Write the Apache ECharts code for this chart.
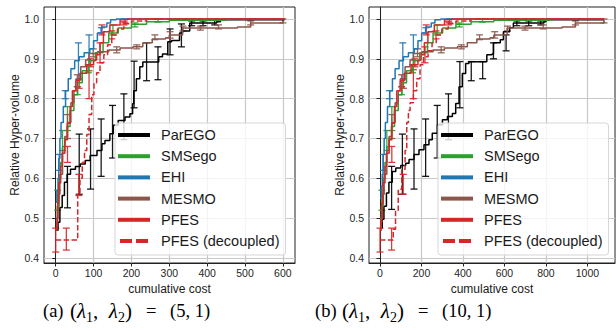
<!DOCTYPE html>
<html>
<head>
<meta charset="utf-8">
<script src="https://cdn.jsdelivr.net/npm/echarts@6/dist/echarts.min.js"></script>
<style>
  html, body { margin: 0; padding: 0; background: #fff; }
  #chart { width: 616px; height: 331px; }
</style>
</head>
<body>
<div id="chart"></div>
<script>
// ---- data: panel (a), lambda = (5, 1) ----
const xTicksA = [0, 100, 200, 300, 400, 500, 600];
const yTicks = [0.4, 0.5, 0.6, 0.7, 0.8, 0.9, 1.0];

const parEgoA = [[0,0.47],[6,0.49],[11,0.527],[17,0.557],[23,0.59],[30,0.61],[39,0.623],[52,0.63],[65,0.636],[78,0.645],[91,0.657],[109,0.67],[122,0.687],[130,0.695],[143,0.712],[152,0.733],[165,0.745],[183,0.754],[196,0.762],[203,0.787],[206,0.82],[213,0.85],[222,0.88],[230,0.892],[268,0.892],[272,0.905],[282,0.912],[296,0.943],[306,0.946],[327,0.965],[335,0.97],[354,0.99],[425,0.993],[435,0.998],[605,0.999]];
const parEgoErrA = [[31,0.526,0.63],[62,0.56,0.711],[92,0.573,0.724],[120,0.605,0.749],[150,0.651,0.783],[180,0.697,0.812],[207,0.777,0.894],[240,0.845,0.94],[270,0.8475,0.93],[302,0.91,0.975],[332,0.93,0.9875],[359,0.983,0.995],[389,0.983,0.995],[420,0.985,0.997]];

const smsA = [[0,0.5],[4,0.53],[9,0.6],[13,0.64],[18,0.68],[24,0.70],[30,0.73],[38,0.77],[48,0.81],[58,0.84],[70,0.87],[88,0.895],[105,0.915],[125,0.94],[140,0.965],[165,0.977],[200,0.987],[240,0.993],[300,0.997],[450,1.0],[605,1.0]];
const smsErrA = [[5,0.52,0.57],[18,0.67,0.72],[31,0.72,0.78],[57,0.81,0.83],[86,0.865,0.885],[151,0.96,0.985],[209,0.98,0.99],[270,0.992,1.0]];

const ehiA = [[0,0.54],[3,0.57],[6,0.6],[8,0.65],[11,0.70],[14,0.74],[20,0.78],[26,0.82],[33,0.85],[40,0.875],[50,0.895],[62,0.905],[75,0.915],[90,0.925],[100,0.945],[110,0.965],[120,0.98],[135,0.99],[145,0.998],[160,1.0],[605,1.0]];
const ehiErrA = [[9,0.62,0.66],[25,0.80,0.82],[60,0.8475,0.94],[88,0.885,0.96],[121,0.965,0.978]];

const mesmoA = [[0,0.47],[3,0.5],[6,0.56],[11,0.61],[18,0.67],[24,0.705],[31,0.74],[40,0.79],[48,0.82],[57,0.85],[66,0.88],[79,0.897],[88,0.913],[110,0.918],[140,0.922],[170,0.927],[204,0.93],[230,0.94],[255,0.95],[290,0.953],[300,0.96],[335,0.977],[480,0.98],[515,0.99],[600,0.995]];
const mesmoErrA = [[31,0.70,0.76],[57,0.83,0.86],[99,0.905,0.925],[161,0.915,0.93],[214,0.925,0.935],[262,0.948,0.96],[302,0.952,0.968],[336,0.97,0.982],[382,0.972,0.982],[430,0.975,0.985],[515,0.985,0.995],[600,0.99,1.0]];

const pfesA = [[0,0.47],[3,0.49],[5,0.538],[8,0.588],[13,0.63],[17,0.663],[24,0.697],[31,0.738],[38,0.78],[44,0.82],[53,0.845],[64,0.864],[82,0.885],[100,0.897],[108,0.91],[117,0.94],[126,0.968],[143,0.985],[170,0.998],[190,1.0],[605,1.0]];
const pfesErrA = [[0,0.415,0.475],[31,0.64,0.68],[62,0.826,0.85],[92,0.88,0.9],[122,0.96,0.985],[183,0.99,1.0]];

const pfesDecA = [[0,0.445],[55,0.445],[58,0.56],[64,0.6],[70,0.64],[76,0.67],[82,0.71],[88,0.76],[95,0.81],[101,0.84],[108,0.865],[117,0.89],[127,0.91],[137,0.935],[148,0.96],[163,0.975],[180,0.988],[200,0.995],[240,1.0],[605,1.0]];
const pfesDecErrA = [[28,0.42,0.475],[61,0.557,0.61],[88,0.80,0.87],[117,0.89,0.94],[148,0.95,0.97],[180,0.985,0.993]];

// ---- data: panel (b), lambda = (10, 1) ----
const xTicksB = [0, 200, 400, 600, 800, 1000];

const parEgoB = [[0,0.476],[11,0.497],[19,0.53],[31,0.563],[43,0.59],[59,0.617],[76,0.626],[100,0.632],[124,0.638],[140,0.647],[164,0.66],[188,0.672],[212,0.684],[236,0.697],[252,0.713],[277,0.734],[301,0.747],[325,0.755],[349,0.763],[365,0.788],[381,0.83],[397,0.863],[413,0.888],[429,0.8925],[505,0.8925],[515,0.91],[540,0.912],[547,0.94],[580,0.9475],[595,0.968],[625,0.978],[643,0.99],[790,0.993],[800,0.998],[1080,0.999]];
const parEgoErrB = [[56,0.522,0.63],[108,0.56,0.711],[164,0.573,0.724],[220,0.605,0.749],[276,0.651,0.783],[330,0.697,0.812],[385,0.777,0.893],[440,0.845,0.893],[495,0.85,0.893],[547,0.90,0.94],[608,0.92,0.96],[660,0.983,0.995],[717,0.983,0.995],[775,0.985,0.995]];

const smsB = [[0,0.5],[7,0.53],[16,0.6],[24,0.64],[33,0.68],[44,0.70],[55,0.73],[70,0.77],[88,0.81],[106,0.84],[128,0.87],[161,0.895],[192,0.915],[229,0.94],[256,0.965],[302,0.977],[366,0.987],[439,0.993],[549,0.997],[820,1.0],[1080,1.0]];
const smsErrB = [[9,0.52,0.57],[33,0.67,0.72],[57,0.72,0.78],[104,0.81,0.83],[157,0.865,0.885],[276,0.96,0.985],[382,0.98,0.99],[494,0.992,1.0]];

const ehiB = [[0,0.55],[6,0.58],[11,0.61],[15,0.66],[20,0.70],[26,0.74],[36,0.78],[47,0.82],[60,0.85],[73,0.875],[92,0.895],[113,0.905],[137,0.915],[165,0.925],[183,0.945],[201,0.965],[220,0.98],[247,0.99],[265,0.998],[293,1.0],[1080,1.0]];
const ehiErrB = [[16,0.62,0.66],[46,0.80,0.82],[110,0.8475,0.94],[161,0.885,0.96],[221,0.965,0.978]];

const mesmoB = [[0,0.47],[5,0.5],[11,0.56],[20,0.61],[33,0.67],[44,0.705],[57,0.74],[73,0.79],[88,0.82],[104,0.85],[121,0.88],[145,0.897],[161,0.913],[201,0.918],[256,0.922],[311,0.927],[373,0.93],[421,0.94],[467,0.95],[531,0.953],[549,0.96],[613,0.977],[878,0.98],[942,0.99],[1080,0.995]];
const mesmoErrB = [[57,0.70,0.76],[104,0.83,0.86],[181,0.905,0.925],[295,0.915,0.93],[392,0.925,0.935],[480,0.948,0.96],[553,0.952,0.968],[615,0.97,0.982],[699,0.972,0.982],[787,0.975,0.985],[942,0.985,0.995],[1080,0.99,1.0]];

const pfesB = [[0,0.47],[5,0.49],[9,0.538],[15,0.588],[24,0.63],[31,0.663],[44,0.697],[57,0.738],[70,0.78],[81,0.82],[97,0.845],[117,0.864],[150,0.885],[183,0.897],[198,0.91],[214,0.94],[231,0.968],[262,0.985],[311,0.998],[348,1.0],[1080,1.0]];
const pfesErrB = [[0,0.415,0.475],[57,0.64,0.68],[113,0.826,0.85],[168,0.88,0.9],[223,0.96,0.985],[335,0.99,1.0]];

const pfesDecB = [[0,0.445],[55,0.445],[64,0.4725],[75,0.52],[88,0.5725],[105,0.6225],[121,0.67],[129,0.74],[137,0.77],[145,0.79],[161,0.82],[177,0.85],[193,0.885],[210,0.905],[232,0.92],[251,0.94],[271,0.96],[298,0.975],[329,0.988],[366,0.995],[439,1.0],[1080,1.0]];
const pfesDecErrB = [[56,0.42,0.475],[112,0.56,0.61],[161,0.80,0.8725],[217,0.89,0.93],[270,0.95,0.97],[330,0.985,0.993]];

const names = ['ParEGO', 'SMSego', 'EHI', 'MESMO', 'PFES', 'PFES (decoupled)'];
const colors = ['#000000', '#2ca02c', '#1f77b4', '#8c564b', '#d62728', '#d62728'];

// caption pieces: [text, left x]
const lambdaPair = '{p|(}{i|λ}{s|1}{p|,  }{i|λ}{s|2}{p|)}';
const captionA = [['(a)', 43], [lambdaPair, 70], ['=', 146], ['(5, 1)', 170]];
const captionB = [['(b)', 315], [lambdaPair, 342], ['=', 418], ['(10, 1)', 442]];

const SANS = 'Liberation Sans, Arial, sans-serif';
const SERIF = 'Liberation Serif, DejaVu Serif, serif';

const chart = echarts.init(document.getElementById('chart'), null, { renderer: 'svg' });

const lineSeries = (name, color, data, idx, dashed) => ({
    name: name,
    type: 'line',
    xAxisIndex: idx,
    yAxisIndex: idx,
    step: 'end',
    symbol: 'none',
    silent: true,
    animation: false,
    data: data,
    itemStyle: { color: color },
    lineStyle: { color: color, width: 1.5, type: dashed ? [5.5, 2.4] : 'solid' }
});

const errSeries = (color, data, idx) => ({
    type: 'custom',
    xAxisIndex: idx,
    yAxisIndex: idx,
    silent: true,
    animation: false,
    data: data,
    encode: { x: 0, y: [1, 2] },
    renderItem: (params, api) => {
        const lo = api.coord([api.value(0), api.value(1)]);
        const hi = api.coord([api.value(0), api.value(2)]);
        const w = 3.5;
        const st = { stroke: color, lineWidth: 1.3, opacity: 0.9 };
        return {
            type: 'group',
            children: [
                { type: 'line', shape: { x1: lo[0], y1: lo[1], x2: hi[0], y2: hi[1] }, style: st },
                { type: 'line', shape: { x1: lo[0] - w, y1: lo[1], x2: lo[0] + w, y2: lo[1] }, style: st },
                { type: 'line', shape: { x1: hi[0] - w, y1: hi[1], x2: hi[0] + w, y2: hi[1] }, style: st }
            ]
        };
    }
});

const panels = [
    [parEgoA, smsA, ehiA, mesmoA, pfesA, pfesDecA],
    [parEgoB, smsB, ehiB, mesmoB, pfesB, pfesDecB]
];
const panelErrs = [
    [parEgoErrA, smsErrA, ehiErrA, mesmoErrA, pfesErrA, pfesDecErrA],
    [parEgoErrB, smsErrB, ehiErrB, mesmoErrB, pfesErrB, pfesDecErrB]
];

let series = [];
panels.forEach((lines, idx) => {
    lines.forEach((d, i) => {
        series.push(lineSeries(names[i], colors[i], d, idx, i === 5));
        series.push(errSeries(colors[i], panelErrs[idx][i], idx));
    });
});

const xAxisCfg = (idx, min, max, split, ticks) => ({
    type: 'value',
    gridIndex: idx,
    min: min,
    max: max,
    splitNumber: split,
    name: 'cumulative cost',
    nameLocation: 'middle',
    nameGap: 17,
    nameTextStyle: { fontFamily: SANS, fontSize: 12, color: '#1a1a1a' },
    axisLine: { show: true, lineStyle: { color: '#222', width: 1 } },
    axisTick: { show: true, length: 3.5, customValues: ticks, lineStyle: { color: '#222' } },
    axisLabel: { customValues: ticks, margin: 4, fontFamily: SANS, fontSize: 10.5, color: '#262626',
        formatter: (v) => String(v) },
    splitLine: { show: true, lineStyle: { color: '#c8c8c8', width: 1.2 } }
});

const yAxisCfg = (idx) => ({
    type: 'value',
    gridIndex: idx,
    min: 0.3875,
    max: 1.03,
    splitNumber: 6,
    name: 'Relative Hyper-volume',
    nameLocation: 'middle',
    nameGap: 20,
    nameTextStyle: { fontFamily: SANS, fontSize: 12, color: '#1a1a1a' },
    axisLine: { show: true, lineStyle: { color: '#222', width: 1 } },
    axisTick: { show: true, length: 3.5, customValues: yTicks, lineStyle: { color: '#222' } },
    axisLabel: { customValues: yTicks, margin: 5, fontFamily: SANS, fontSize: 10.5, color: '#262626',
        formatter: (v) => v.toFixed(1) },
    splitLine: { show: true, lineStyle: { color: '#c8c8c8', width: 1.2 } }
});

const solidIcon = 'path://M0,0H32V4H0Z';
const dashIcon = 'path://M0,0H12V4H0ZM16,0H28V4H16Z';

const legendCfg = (left) => ({
    orient: 'vertical',
    left: left,
    top: 123,
    padding: [4, 6, 6, 3],
    itemGap: 5.2,
    itemWidth: 32,
    itemHeight: 4,
    selectedMode: false,
    backgroundColor: 'rgba(255,255,255,0.8)',
    borderColor: '#d6d6d6',
    borderWidth: 1,
    borderRadius: 3,
    textStyle: { fontFamily: SANS, fontSize: 14.5, color: '#1a1a1a', lineHeight: 16, padding: [0, 0, 0, 6] },
    data: names.map((n, i) => ({ name: n, icon: i === 5 ? dashIcon : solidIcon }))
});

const captionText = (pieces) => pieces.map(([t, x]) => ({
    type: 'text',
    x: x,
    y: 311,
    style: {
        text: t,
        rich: {
            p: { fontFamily: SERIF, fontSize: 21, lineHeight: 26 },
            i: { fontFamily: SERIF, fontSize: 21, lineHeight: 26, fontStyle: 'italic' },
            s: { fontFamily: SERIF, fontSize: 14, lineHeight: 14, verticalAlign: 'bottom' }
        },
        fontFamily: SERIF, fontSize: 18.5, fill: '#000', align: 'left', verticalAlign: 'middle'
    }
}));

const option = {
    animation: false,
    backgroundColor: '#ffffff',
    grid: [
        { left: 44, top: 7, width: 251, height: 256, show: true, borderColor: '#222', borderWidth: 1, backgroundColor: 'transparent' },
        { left: 369, top: 7, width: 246, height: 256, show: true, borderColor: '#222', borderWidth: 1, backgroundColor: 'transparent' }
    ],
    xAxis: [
        xAxisCfg(0, -31, 632, 7, xTicksA),
        xAxisCfg(1, -53, 1133, 6, xTicksB)
    ],
    yAxis: [yAxisCfg(0), yAxisCfg(1)],
    legend: [legendCfg(115), legendCfg(438)],
    series: series,
    graphic: captionText(captionA).concat(captionText(captionB))
};

chart.setOption(option);
</script>
</body>
</html>
